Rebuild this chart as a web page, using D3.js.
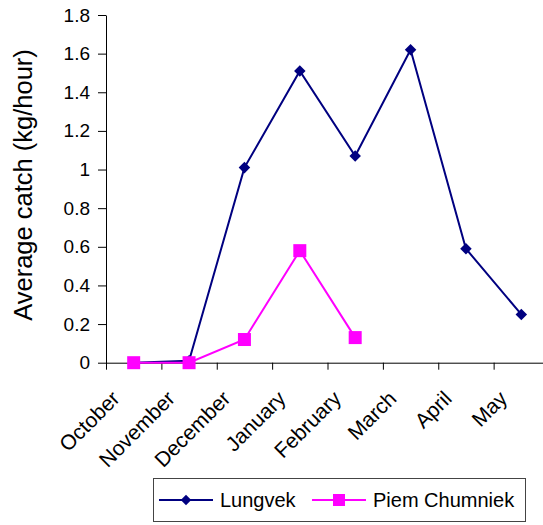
<!DOCTYPE html>
<html>
<head>
<meta charset="utf-8">
<script src="https://cdn.jsdelivr.net/npm/d3@7"></script>
<style>
    body { margin: 0; background: #fff; }
    svg { display: block; font-family: "Liberation Sans", Arial, sans-serif; }
</style>
</head>
<body>
<svg width="543" height="525"></svg>
<script>
var months = ["October", "November", "December", "January", "February", "March", "April", "May"];
var lungvek = [0, 0.01, 1.01, 1.51, 1.07, 1.62, 0.59, 0.25];
var piemChumniek = [0, 0, 0.12, 0.58, 0.13, null, null, null];
var yTicks = [0, 0.2, 0.4, 0.6, 0.8, 1, 1.2, 1.4, 1.6, 1.8];

var svg = d3.select("svg"),
    plotLeft = 106, plotRight = 549, plotTop = 15, plotBottom = 362.7;

var x = d3.scaleBand()
    .domain(months)
    .range([plotLeft, plotRight]);

var xEdges = d3.scaleLinear()
    .domain([0, months.length])
    .range([plotLeft, plotRight]);

var y = d3.scaleLinear()
    .domain([0, 1.8])
    .range([plotBottom, plotTop]);

// y axis
var yAxis = svg.append("g")
    .attr("transform", "translate(" + plotLeft + ",0)")
    .call(d3.axisLeft(y).tickValues(yTicks).tickSize(8).tickSizeOuter(0).tickPadding(8)
        .tickFormat(function (d) { return d3.format("")(+d.toFixed(1)); }));
yAxis.select(".domain").attr("stroke", "#000");
yAxis.selectAll(".tick line").attr("stroke", "#000");
yAxis.selectAll("text")
    .attr("font-size", "19px")
    .attr("fill", "#000");

// x axis: ticks on the category edges, labels in the middle
var xTickAxis = svg.append("g")
    .attr("transform", "translate(0," + plotBottom + ")")
    .call(d3.axisBottom(xEdges).ticks(months.length).tickSize(7).tickSizeOuter(0).tickFormat(""));
xTickAxis.select(".domain").attr("stroke", "#000");
xTickAxis.selectAll(".tick line").attr("stroke", "#000");

var xLabelAxis = svg.append("g")
    .attr("transform", "translate(0," + plotBottom + ")")
    .call(d3.axisBottom(x).tickSize(0).tickSizeOuter(0));
xLabelAxis.select(".domain").remove();
xLabelAxis.selectAll("text")
    .attr("font-size", "21px")
    .attr("fill", "#000")
    .attr("text-anchor", "end")
    .attr("y", 0)
    .attr("dy", "0.35em")
    .attr("transform", "translate(-18,32) rotate(-45)");

svg.append("text")
    .attr("transform", "translate(32,185) rotate(-90)")
    .attr("text-anchor", "middle")
    .attr("font-size", "25.5px")
    .attr("fill", "#000")
    .text("Average catch (kg/hour)");

var line = d3.line()
    .defined(function (d) { return d != null; })
    .x(function (d, i) { return x(months[i]) + x.bandwidth() / 2; })
    .y(function (d) { return y(d); });

var diamond = d3.symbol().type(d3.symbolDiamond2).size(85);

svg.append("path")
    .datum(lungvek)
    .attr("fill", "none")
    .attr("stroke", "#000080")
    .attr("stroke-width", 2)
    .attr("d", line);

svg.append("path")
    .datum(piemChumniek)
    .attr("fill", "none")
    .attr("stroke", "#ff00ff")
    .attr("stroke-width", 2)
    .attr("d", line);

svg.selectAll(".lung")
    .data(lungvek)
    .enter().append("path")
    .attr("class", "lung")
    .attr("transform", function (d, i) {
        return "translate(" + (x(months[i]) + x.bandwidth() / 2) + "," + y(d) + ")";
    })
    .attr("d", diamond)
    .attr("fill", "#000080");

svg.selectAll(".piem")
    .data(piemChumniek.filter(function (d) { return d != null; }))
    .enter().append("rect")
    .attr("class", "piem")
    .attr("x", function (d, i) { return x(months[i]) + x.bandwidth() / 2 - 6.5; })
    .attr("y", function (d) { return y(d) - 6.5; })
    .attr("width", 13)
    .attr("height", 13)
    .attr("fill", "#ff00ff");

// legend
var legend = svg.append("g");
legend.append("rect")
    .attr("x", 153.5).attr("y", 478.5)
    .attr("width", 372).attr("height", 43)
    .attr("fill", "#fff")
    .attr("stroke", "#444");

var legendItems = [
    {name: "Lungvek", color: "#000080", x: 159},
    {name: "Piem Chumniek", color: "#ff00ff", x: 312}
];

legendItems.forEach(function (d, i) {
    legend.append("line")
        .attr("x1", d.x).attr("x2", d.x + 54)
        .attr("y1", 500).attr("y2", 500)
        .attr("stroke", d.color)
        .attr("stroke-width", 2);
    if (i === 0) {
        legend.append("path")
            .attr("transform", "translate(" + (d.x + 27) + ",500)")
            .attr("d", d3.symbol().type(d3.symbolDiamond2).size(70))
            .attr("fill", d.color);
    } else {
        legend.append("rect")
            .attr("x", d.x + 27 - 6).attr("y", 494)
            .attr("width", 12).attr("height", 12)
            .attr("fill", d.color);
    }
    legend.append("text")
        .attr("x", d.x + 61)
        .attr("y", 507)
        .attr("font-size", "20px")
        .attr("fill", "#000")
        .text(d.name);
});
</script>
</body>
</html>
